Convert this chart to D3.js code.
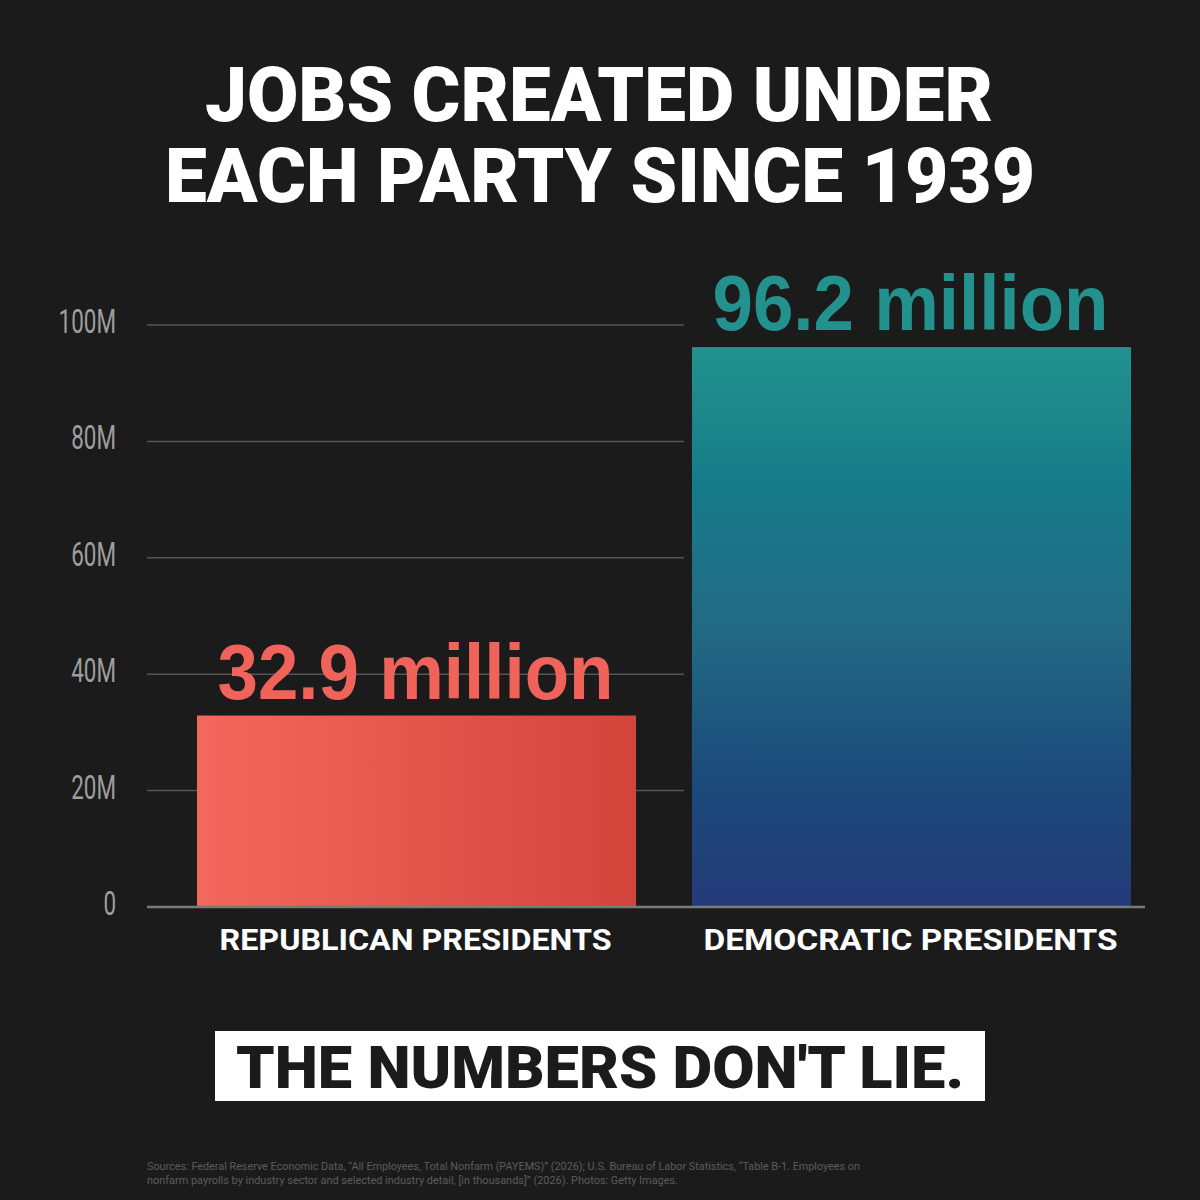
<!DOCTYPE html>
<html>
<head>
<meta charset="utf-8">
<script src="https://cdn.jsdelivr.net/npm/d3@7"></script>
<style>
  html, body { margin: 0; padding: 0; background: #1b1b1b; }
  svg { display: block; }
</style>
</head>
<body>
<div id="viz"></div>
<script>
// data
var parties = ["REPUBLICAN PRESIDENTS", "DEMOCRATIC PRESIDENTS"];
var jobsMillions = [32.9, 96.2];
var valueLabels = ["32.9 million", "96.2 million"];
var yTicks = [0, 20, 40, 60, 80, 100];
var titleLines = ["JOBS CREATED UNDER", "EACH PARTY SINCE 1939"];
var sourceLines = [
    "Sources: Federal Reserve Economic Data, \u201cAll Employees, Total Nonfarm (PAYEMS)\u201d (2026); U.S. Bureau of Labor Statistics, \u201cTable B-1. Employees on",
    "nonfarm payrolls by industry sector and selected industry detail, [in thousands]\u201d (2026). Photos: Getty Images."
];

var width = 1200, height = 1200;
var labelColors = ["#f0635a", "#23918e"];

var svg = d3.select("#viz")
    .append("svg")
    .attr("width", width)
    .attr("height", height);

svg.append("rect")
    .attr("width", width)
    .attr("height", height)
    .attr("fill", "#1b1b1b");

var defs = svg.append("defs");

// republican bar: horizontal coral -> red
var gRep = defs.append("linearGradient")
    .attr("id", "gradRep")
    .attr("x1", "0%").attr("y1", "0%")
    .attr("x2", "100%").attr("y2", "0%");
gRep.append("stop").attr("offset", "0%").attr("stop-color", "#f3685d");
gRep.append("stop").attr("offset", "100%").attr("stop-color", "#d3443b");

// democratic bar: vertical teal -> navy
var gDem = defs.append("linearGradient")
    .attr("id", "gradDem")
    .attr("x1", "0%").attr("y1", "0%")
    .attr("x2", "0%").attr("y2", "100%");
[["0%", "#23928e"], ["25%", "#167b89"], ["50%", "#226a84"], ["78%", "#1b4a7b"], ["100%", "#243a78"]]
    .forEach(function (s) {
        gDem.append("stop").attr("offset", s[0]).attr("stop-color", s[1]);
    });
var fills = ["url(#gradRep)", "url(#gradDem)"];

// title
svg.selectAll(".title")
    .data(titleLines)
    .enter()
    .append("text")
    .attr("class", "title")
    .attr("x", function (d, i) { return i == 0 ? 599 : 600; })
    .attr("y", function (d, i) { return i == 0 ? 121 : 202; })
    .attr("text-anchor", "middle")
    .attr("textLength", function (d, i) { return i == 0 ? 788 : 870; })
    .attr("lengthAdjust", "spacingAndGlyphs")
    .style("font-family", "Roboto, 'Liberation Sans', sans-serif")
    .style("font-weight", "900")
    .style("font-size", "76px")
    .attr("fill", "#ffffff")
    .text(function (d) { return d; });

var yScale = d3.scaleLinear()
    .domain([0, 100])
    .range([907, 325]);

var xScale = d3.scaleBand()
    .domain(parties)
    .range([169, 1159])
    .paddingInner(0.113)
    .paddingOuter(0.0565);

// gridlines
svg.selectAll(".grid")
    .data(yTicks.filter(function (d) { return d > 0; }))
    .enter()
    .append("line")
    .attr("class", "grid")
    .attr("x1", 147)
    .attr("x2", 684)
    .attr("y1", function (d) { return yScale(d); })
    .attr("y2", function (d) { return yScale(d); })
    .attr("stroke", "#555555")
    .attr("stroke-width", 1.5);

// tick labels, squeezed to look condensed
svg.selectAll(".tick")
    .data(yTicks)
    .enter()
    .append("text")
    .attr("class", "tick")
    .attr("transform", function (d) {
        return "translate(116," + (yScale(d) + 8) + ") scale(0.68,1)";
    })
    .attr("text-anchor", "end")
    .style("font-family", "Roboto, 'Liberation Sans', sans-serif")
    .style("font-weight", "400")
    .style("font-size", "33px")
    .attr("fill", "#9e9e9e")
    .text(function (d) { return d == 0 ? "0" : d + "M"; });

// bars
svg.selectAll(".bar")
    .data(jobsMillions)
    .enter()
    .append("rect")
    .attr("class", "bar")
    .attr("x", function (d, i) { return xScale(parties[i]); })
    .attr("width", xScale.bandwidth())
    .attr("y", function (d) { return yScale(d); })
    .attr("height", function (d) { return yScale(0) - yScale(d); })
    .attr("fill", function (d, i) { return fills[i]; });

// baseline
svg.append("line")
    .attr("x1", 147)
    .attr("x2", 1145)
    .attr("y1", yScale(0))
    .attr("y2", yScale(0))
    .attr("stroke", "#7a7a7a")
    .attr("stroke-width", 2.5);

// value labels
svg.selectAll(".value")
    .data(jobsMillions)
    .enter()
    .append("text")
    .attr("class", "value")
    .attr("x", function (d, i) { return xScale(parties[i]) + xScale.bandwidth() / 2 - 1; })
    .attr("y", function (d) { return yScale(d) - 17; })
    .attr("text-anchor", "middle")
    .attr("textLength", 396)
    .attr("lengthAdjust", "spacingAndGlyphs")
    .style("font-family", "'Liberation Sans', Arial, sans-serif")
    .style("font-weight", "bold")
    .style("font-size", "77px")
    .attr("fill", function (d, i) { return labelColors[i]; })
    .text(function (d, i) { return valueLabels[i]; });

// category labels
svg.selectAll(".cat")
    .data(parties)
    .enter()
    .append("text")
    .attr("class", "cat")
    .attr("x", function (d) { return xScale(d) + xScale.bandwidth() / 2 - 1; })
    .attr("y", 950)
    .attr("text-anchor", "middle")
    .attr("textLength", function (d, i) { return i == 0 ? 392 : 414; })
    .attr("lengthAdjust", "spacingAndGlyphs")
    .style("font-family", "Roboto, 'Liberation Sans', sans-serif")
    .style("font-weight", "bold")
    .style("font-size", "29px")
    .attr("fill", "#ffffff")
    .text(function (d) { return d; });

// banner
svg.append("rect")
    .attr("x", 215)
    .attr("y", 1031)
    .attr("width", 770)
    .attr("height", 70)
    .attr("fill", "#ffffff");

svg.append("text")
    .attr("x", 600)
    .attr("y", 1088)
    .attr("text-anchor", "middle")
    .attr("textLength", 728)
    .attr("lengthAdjust", "spacingAndGlyphs")
    .style("font-family", "Roboto, 'Liberation Sans', sans-serif")
    .style("font-weight", "900")
    .style("font-size", "59px")
    .attr("fill", "#1b1b1b")
    .text("THE NUMBERS DON'T LIE.");

// sources
svg.selectAll(".src")
    .data(sourceLines)
    .enter()
    .append("text")
    .attr("class", "src")
    .attr("x", 147)
    .attr("y", function (d, i) { return 1170 + i * 14; })
    .attr("textLength", function (d, i) { return i == 0 ? 713 : 531; })
    .attr("lengthAdjust", "spacingAndGlyphs")
    .style("font-family", "Roboto, 'Liberation Sans', sans-serif")
    .style("font-size", "11px")
    .attr("fill", "#5c5c5c")
    .text(function (d) { return d; });
</script>
</body>
</html>
